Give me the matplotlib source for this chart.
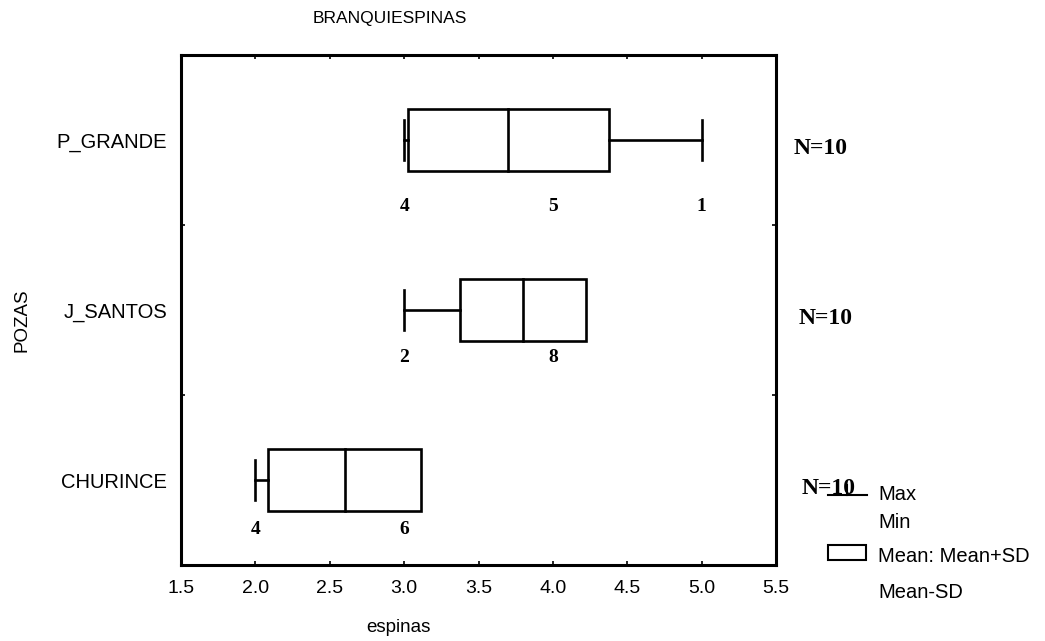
import matplotlib.pyplot as plt
import numpy as np
from matplotlib.patches import Rectangle
from matplotlib.transforms import blended_transform_factory

# -------------------------------------
# Data (frequency of each spine count per pool)
# -------------------------------------

GROUPS = ["P_GRANDE", "J_SANTOS", "CHURINCE"]
SPINE_VALUES = [[3, 4, 5], [3, 4], [2, 3]]
SPINE_COUNTS = [[4, 5, 1], [2, 8], [4, 6]]
N_LABELS = ["N=10", "N=10", "N=10"]
X_TICKS = [1.5, 2.0, 2.5, 3.0, 3.5, 4.0, 4.5, 5.0, 5.5]

# -------------------------------------
# Stats
# -------------------------------------

stats = []
for vals, counts in zip(SPINE_VALUES, SPINE_COUNTS):
    sample = np.repeat(vals, counts)
    m = sample.mean()
    sd = sample.std(ddof=1)
    stats.append((m, sd, sample.min(), sample.max()))

# -------------------------------------
# Plotting
# -------------------------------------

plt.rcParams["font.family"] = ["Liberation Sans", "DejaVu Sans"]
W, H = 1045, 641
fig = plt.figure(figsize=(W / 100, H / 100), dpi=100)
ax = fig.add_axes([181 / W, (H - 565) / H, 595 / W, 510 / H])

lw = 1.9
box_h = 0.37
cap_h = 0.235
label_drop = [0.39, 0.28, 0.29]
serif = ["Liberation Serif", "DejaVu Serif"]

for i, (m, sd, lo, hi) in enumerate(stats):
    y = i + 0.5
    left, right = m - sd, m + sd
    ax.add_patch(Rectangle((left, y - box_h / 2), right - left, box_h,
                           fill=False, edgecolor="black", linewidth=lw))
    ax.plot([m, m], [y - box_h / 2, y + box_h / 2], color="black", lw=lw)
    if lo < left:
        ax.plot([lo, left], [y, y], color="black", lw=lw)
        ax.plot([lo, lo], [y - cap_h / 2, y + cap_h / 2], color="black", lw=lw)
    if hi > right:
        ax.plot([right, hi], [y, y], color="black", lw=lw)
        ax.plot([hi, hi], [y - cap_h / 2, y + cap_h / 2], color="black", lw=lw)
    for v, c in zip(SPINE_VALUES[i], SPINE_COUNTS[i]):
        ax.text(v, y + label_drop[i], str(c), ha="center", va="center",
                fontsize=14, fontweight="bold", family=serif)

trans = blended_transform_factory(ax.transAxes, ax.transData)
n_x = [1.030, 1.038, 1.043]
for i, lab in enumerate(N_LABELS):
    ax.text(n_x[i], i + 0.55, lab, transform=trans, ha="left", va="center",
            fontsize=17, fontweight="bold", family=serif, clip_on=False)

ax.set_xlim(1.5, 5.5)
ax.set_ylim(3, 0)
ax.set_xticks(X_TICKS)
ax.set_xticklabels([f"{t:.1f}" for t in X_TICKS])
ax.set_yticks([1, 2])
ax.set_yticklabels([])
ax.set_yticks([0.5, 1.5, 2.5], minor=True)
ax.set_yticklabels(GROUPS, minor=True)
ax.tick_params(axis="x", which="major", direction="in", length=3, width=1.2,
               top=True, labelsize=14, pad=11)
ax.tick_params(axis="y", which="major", direction="in", length=3, width=1.2,
               right=True)
ax.tick_params(axis="y", which="minor", length=0, labelsize=14.5, pad=10)
for s in ax.spines.values():
    s.set_linewidth(2.2)

fig.text(390 / W, 1 - 18 / H, "BRANQUIESPINAS", ha="center", va="center",
         fontsize=12.5)
fig.text(398 / W, 1 - 627 / H, "espinas", ha="center", va="center",
         fontsize=13.5)
fig.text(22 / W, 1 - 320 / H, "POZAS", ha="center", va="center",
         fontsize=13.5, rotation=90)

# Legend
def fx(px):
    return px / W


def fy(py):
    return 1 - py / H


fig.add_artist(plt.Line2D([fx(828), fx(867)], [fy(495), fy(495)],
                          color="black", lw=1.5))
fig.add_artist(plt.Line2D([fx(847), fx(847)], [fy(485), fy(495)],
                          color="black", lw=1.5))
fig.add_artist(Rectangle((fx(828), fy(560)), fx(866) - fx(828),
                         fy(545) - fy(560), fill=False, edgecolor="black",
                         lw=1.5, transform=fig.transFigure))
legend_rows = [("Max", 495), ("Min", 523), ("Mean: Mean+SD", 557),
               ("Mean-SD", 592)]
for txt, py in legend_rows:
    fig.text(fx(878), fy(py), txt, ha="left", va="center", fontsize=14.5)

fig.savefig("out.png", dpi=100)
